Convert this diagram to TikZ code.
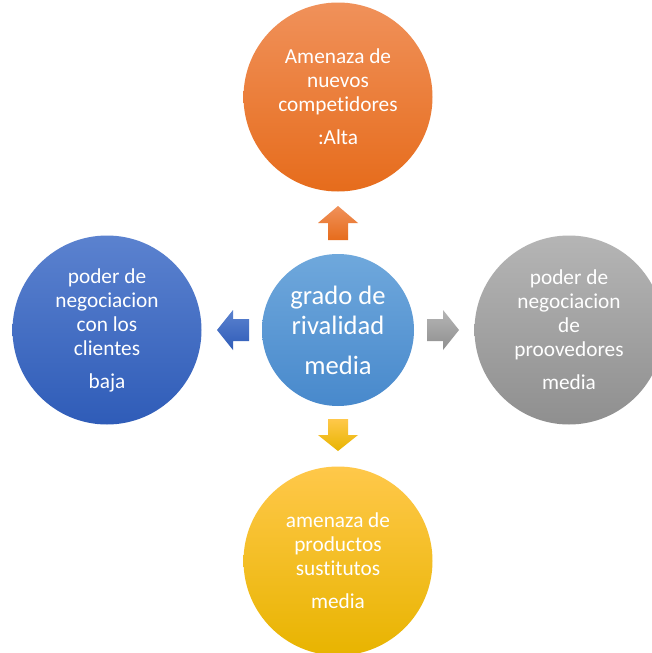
\documentclass[tikz,border=0pt]{standalone}
\usepackage{fontspec}
\setmainfont{Carlito}[Ligatures={NoCommon,NoContextual}]
\begin{document}
\begin{tikzpicture}[x=1pt,y=-1pt]
\definecolor{orT}{HTML}{F0915A}\definecolor{orB}{HTML}{E66C1C}
\definecolor{cbT}{HTML}{6FA8DC}\definecolor{cbB}{HTML}{4889CC}
\definecolor{lbT}{HTML}{5B82CF}\definecolor{lbB}{HTML}{2F5CB8}
\definecolor{grT}{HTML}{B5B5B5}\definecolor{grB}{HTML}{8F8F8F}
\definecolor{ylT}{HTML}{FFC84A}\definecolor{ylB}{HTML}{E8B400}
\tikzset{
  bigc/.style={circle,minimum size=189pt,inner sep=0pt,text=white,align=center,
    font=\fontsize{21.3}{24}\selectfont},
  midc/.style={circle,minimum size=152pt,inner sep=0pt,text=white,align=center,
    font=\fontsize{26.6}{30}\selectfont}
}
\useasboundingbox (0,0) rectangle (652,653);
\fill[white] (0,0) rectangle (652,653);
% circles
\node[bigc,top color=orT,bottom color=orB] (top) at (338,97)
  {Amenaza de\\nuevos\\competidores\\[9pt]:Alta};
\node[bigc,top color=lbT,bottom color=lbB] (left) at (107,330)
  {poder de\\negociacion\\con los\\clientes\\[9pt]baja};
\node[bigc,top color=grT,bottom color=grB] (right) at (569,330)
  {poder de\\negociacion\\de\\proovedores\\[9pt]media};
\node[bigc,top color=ylT,bottom color=ylB] (bottom) at (338,561)
  {amenaza de\\productos\\sustitutos\\[9pt]media};
\node[midc,top color=cbT,bottom color=cbB] (center) at (338,330)
  {grado de\\rivalidad\\[10pt]media};
% block arrows
\shade[top color=orT,bottom color=orB]
  (338,206) -- (358,223) -- (348,223) -- (348,240) -- (328,240) -- (328,223) -- (318,223) -- cycle;
\shade[top color=ylT,bottom color=ylB]
  (338,451) -- (358,435) -- (348,435) -- (348,419) -- (328,419) -- (328,435) -- (318,435) -- cycle;
\shade[top color=grT,bottom color=grB]
  (459,330) -- (443,310) -- (443,319) -- (427,319) -- (427,341) -- (443,341) -- (443,350) -- cycle;
\shade[top color=lbT,bottom color=lbB]
  (217,330) -- (233,310) -- (233,319) -- (249,319) -- (249,341) -- (233,341) -- (233,350) -- cycle;
\end{tikzpicture}
\end{document}
